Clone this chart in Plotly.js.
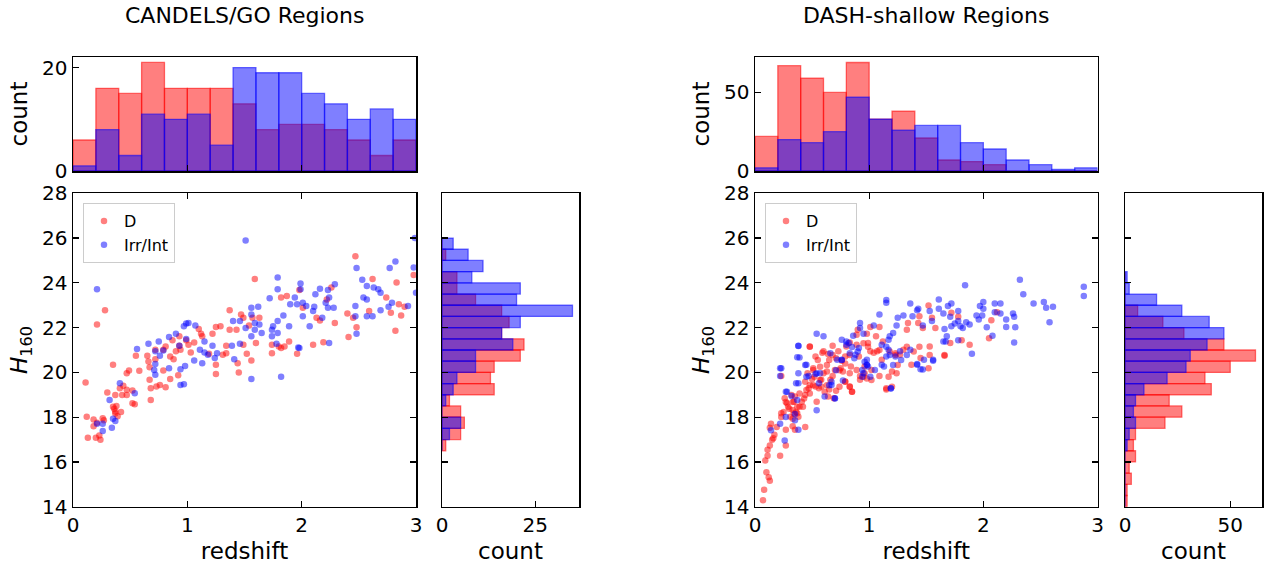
<!DOCTYPE html>
<html>
<head>
<meta charset="utf-8">
<script src="https://cdn.plot.ly/plotly-3.0.1.min.js"></script>
<style>html,body{margin:0;padding:0;background:#fff;}#chart{width:1267px;height:570px;}</style>
</head>
<body>
<div id="chart"></div>
<script>
// ---------- DATA ----------
const panelTitles = ["CANDELS/GO Regions", "DASH-shallow Regions"];
const seriesNames = ["D", "Irr/Int"];

// redshift histogram bins (width 0.2)
const zBinCenters = [0.1,0.3,0.5,0.7,0.9,1.1,1.3,1.5,1.7,1.9,2.1,2.3,2.5,2.7,2.9];
const candelsTopD   = [6,16,15,21,16,16,16,13,8,9,9,8,6,3,6];
const candelsTopIrr = [1,8,3,11,10,11,5,20,19,19,15,13,10,12,10];
const dashTopD      = [22,67,59,50,69,33,38,21,7,6,4,0,0,0,0];
const dashTopIrr    = [2,20,18,25,47,33,26,29,29,18,14,7,4,1,2];

// H160 histogram bins (width 0.5)
const candelsHBins = [16.75,17.25,17.75,18.25,18.75,19.25,19.75,20.25,20.75,21.25,21.75,22.25,22.75,23.25,23.75,24.25,24.75,25.25,25.75];
const candelsSideD   = [1,5,6,5,2,14,13,14,21,22,16,18,16,9,4,4,0,1,0];
const candelsSideIrr = [0,2,5,0,1,3,4,9,9,19,16,21,35,20,21,8,11,7,3];
const dashHBins = [14.25,14.75,15.25,15.75,16.25,16.75,17.25,17.75,18.25,18.75,19.25,19.75,20.25,20.75,21.25,21.75,22.25,22.75,23.25,23.75,24.25];
const dashSideD   = [1,1,3,2,5,4,5,19,27,21,41,38,50,62,47,28,18,6,0,0,0];
const dashSideIrr = [0,0,0,0,0,1,2,5,4,5,9,20,29,31,39,47,40,27,15,2,1];

// scatter points [redshift, H160]
const candelsD = [[0.21,22.14],[0.28,22.78],[1.59,24.17],[2.47,25.19],[2.62,24.17],[2.83,24.02],[2.98,24.35],[1.98,23.68],[2.26,23.79],[1.82,23.34],[1.87,23.41],[2.01,22.89],[2.13,22.44],[2.16,22.32],[2.22,23.26],[2.29,22.21],[2.40,22.63],[2.45,22.44],[2.48,22.02],[2.41,21.58],[2.59,22.74],[2.74,23.34],[2.85,23.04],[2.87,22.54],[2.78,22.66],[2.82,21.86],[2.90,22.93],[1.37,22.78],[1.47,22.59],[1.49,22.44],[1.57,22.44],[1.63,22.44],[1.54,22.09],[1.25,22.03],[1.29,22.06],[1.37,21.91],[1.43,21.91],[1.10,21.94],[1.12,21.73],[1.13,21.61],[1.06,21.34],[1.01,21.23],[0.99,21.43],[1.22,21.73],[1.34,21.19],[1.49,21.23],[1.60,21.31],[1.74,21.23],[1.80,21.16],[1.85,21.16],[2.10,21.23],[2.19,21.35],[0.87,21.43],[0.93,21.61],[0.93,21.19],[0.81,21.16],[0.72,21.01],
[0.11,19.55],[0.12,18.02],[0.18,17.90],[0.26,17.95],[0.35,20.34],[0.30,19.10],[0.37,18.99],[0.38,18.50],[0.35,18.47],[0.37,18.25],[0.41,19.29],[0.44,19.40],[0.43,18.99],[0.47,19.22],[0.47,18.99],[0.52,19.19],[0.52,18.62],[0.47,19.96],[0.49,20.08],[0.55,20.74],[0.58,20.07],[0.65,20.74],[0.66,20.49],[0.67,20.23],[0.67,19.67],[0.68,19.29],[0.72,20.59],[0.73,19.37],[0.68,18.77],[0.76,19.44],[0.79,20.08],[0.81,19.34],[0.79,21.01],[0.85,20.71],[0.85,19.70],[0.88,20.59],[0.90,20.94],[0.92,19.87],[0.94,21.01],[1.03,20.89],[1.19,20.83],[1.25,19.93],[1.25,20.34],[1.31,20.79],[1.34,20.86],[1.45,19.99],[1.44,20.41],[1.52,20.83],[1.56,20.53],[1.74,20.86],[1.82,21.09],[1.89,21.38],[1.96,20.83],
[0.13,17.08],[0.20,17.08],[0.24,16.99],[0.23,17.18],[0.18,17.59],[0.27,17.86],[0.21,17.75],[0.36,18.38],[0.37,18.16],[0.42,18.23],[0.39,18.04],[0.54,18.58]];

const candelsIrr = [[0.21,23.71],[1.51,25.89],[2.99,26.0],[2.98,24.69],[2.82,24.95],[2.77,24.66],[2.48,24.66],[1.79,24.24],[1.79,23.71],[1.99,23.97],[1.99,23.71],[2.16,23.74],[2.23,23.68],[2.29,23.94],[2.12,23.49],[2.24,23.34],[1.72,23.31],[1.94,23.34],[1.90,23.04],[1.96,23.04],[2.01,23.11],[2.04,22.96],[2.11,22.93],[2.21,23.11],[2.23,22.89],[2.28,22.89],[2.53,24.14],[2.57,23.86],[2.63,23.79],[2.67,23.71],[2.69,23.56],[2.54,23.34],[2.57,23.26],[2.47,22.96],[2.76,22.93],[2.79,23.11],[2.93,22.96],[3.0,23.56],[2.69,22.78],[2.62,22.51],[2.57,22.51],[2.47,22.51],[1.56,22.89],[1.62,22.93],[1.56,22.59],[1.40,22.29],[1.46,22.29],[1.59,22.21],[1.63,22.14],[1.51,21.98],[1.59,21.91],[1.75,22.06],[1.79,22.29],[1.74,21.91],[1.79,21.76],[1.89,22.06],[2.07,22.06],[2.18,22.44],[2.01,22.51],[2.10,22.74],[1.84,22.54],[0.99,22.18],[1.01,22.21],[1.07,22.09],[0.97,22.06],[0.90,21.73],[0.84,21.58],[0.99,21.49],[1.15,21.38],[1.22,21.19],[1.39,21.19],[1.46,21.28],[1.56,21.61],[1.65,21.76],[1.74,21.61],[1.78,21.28],[1.97,21.11],[2.24,21.31],[2.48,21.73],[0.66,21.28],[0.75,21.38],[0.56,21.04],[0.93,21.19],
[0.32,18.77],[0.41,19.52],[0.54,19.07],[0.72,20.94],[0.72,20.38],[0.72,19.89],[0.71,20.11],[0.76,20.74],[0.79,20.98],[0.84,20.19],[0.94,19.44],[0.97,19.47],[0.94,20.14],[0.98,20.29],[1.06,20.53],[1.11,21.01],[1.13,20.41],[1.15,20.89],[1.18,20.79],[1.24,20.64],[1.26,20.86],[1.41,20.59],[1.56,19.70],[1.82,19.81],[1.98,21.09],
[0.26,17.38],[0.21,17.71],[0.26,17.71],[0.34,17.53],[0.35,17.93],[0.37,17.83]];

const dashD = [[1.52,22.99],[1.72,22.66],[1.78,22.48],[2.12,22.69],[2.07,22.33],[2.05,21.53],[1.88,21.23],[1.81,21.43],[1.71,21.31],[1.44,22.51],[1.43,22.21],[1.47,21.98],[1.55,22.44],[1.58,21.98],[1.34,22.21],[1.33,21.91],[1.09,22.03],[1.01,22.03],[0.98,21.73],[0.90,21.91],[0.89,21.68],[1.06,21.61],[1.12,21.38],[0.99,21.31],[0.83,21.34],[0.68,21.19],[0.48,21.16],[0.80,21.16],[1.53,21.16],
[0.23,19.84],[0.26,18.84],[0.28,18.62],[0.29,18.47],[0.23,18.17],[0.32,18.99],[0.34,18.69],[0.35,18.92],[0.37,18.47],[0.37,18.17],[0.38,18.02],[0.33,18.32],[0.31,18.02],[0.41,18.69],[0.42,18.47],[0.44,18.99],[0.47,19.29],[0.48,19.44],[0.50,19.70],[0.51,20.11],[0.53,20.71],[0.53,19.37],[0.56,19.29],[0.58,19.37],[0.58,19.67],[0.54,18.69],[0.61,19.14],[0.63,20.04],[0.64,18.92],[0.60,20.94],[0.66,19.67],[0.69,18.84],[0.70,20.11],[0.75,20.19],[0.73,20.94],[0.77,20.04],[0.79,19.59],[0.79,20.71],[0.83,19.37],[0.85,19.14],[0.84,20.26],[0.89,20.11],[0.91,20.71],[0.92,19.67],[0.95,19.81],[0.96,20.26],[1.01,20.94],[1.02,20.11],[1.07,20.94],[1.09,19.84],[1.11,20.56],[1.15,19.29],[1.17,19.81],[1.20,20.04],[1.23,20.86],[1.24,19.96],[1.27,20.79],[1.30,21.01],[1.37,20.34],[1.45,20.64],[1.52,20.19],[1.66,20.74],
[0.07,14.29],[0.08,14.76],[0.09,16.06],[0.10,15.54],[0.11,16.28],[0.12,15.31],[0.13,15.16],[0.11,16.54],[0.13,16.73],[0.15,16.99],[0.17,17.21],[0.16,17.06],[0.19,17.56],[0.22,16.28],[0.27,16.73],[0.27,17.44],[0.33,17.59],[0.35,17.44],[0.44,17.56],[0.13,17.53],[0.14,17.71],
[0.48,21.15],[0.59,20.88],[0.64,20.82],[0.68,20.78],[0.65,20.55],[0.71,20.63],[0.76,20.52],[0.79,20.40],[0.83,20.78],[0.89,21.23],[0.95,21.30],[0.99,21.15],[1.04,20.88],[1.09,21.0],[1.18,20.93],[1.23,20.78],[1.25,20.33],[1.33,21.15],[1.39,20.93],[1.44,21.15],[1.53,20.78],[1.66,20.78],[1.15,19.24],[1.20,19.36],[1.02,19.66],[0.83,19.36],[0.85,19.13],[0.71,19.18],[0.65,19.24],[0.63,19.43],[0.57,19.66],[0.52,19.81],[0.51,19.43],[0.48,19.06],[0.45,19.21],[0.43,18.83],[0.39,18.46],[0.36,18.23],[0.30,18.38],[0.27,18.68],[0.25,18.23],[0.23,18.01],[0.33,17.93],[0.34,18.16],[0.33,18.68],[0.39,19.06],[0.44,19.58],[0.46,19.96],[0.51,20.18],[0.57,20.25],[0.60,19.96],[0.55,20.55],[0.63,20.33],[0.74,20.10],[0.79,19.58],[0.83,19.96],[0.92,19.84],[0.96,19.96],[0.98,19.73],[0.68,19.84],[0.74,19.36]];

const dashIrr = [[2.32,24.14],[2.35,23.49],[2.88,23.83],[2.88,23.41],[1.84,23.89],[2.44,23.08],[2.53,23.14],[2.55,22.89],[2.61,22.93],[2.58,22.24],[2.26,22.63],[2.27,22.48],[2.20,22.36],[2.20,22.03],[2.28,22.02],[2.27,21.34],[2.15,23.08],[2.10,23.08],[2.15,22.63],[2.10,22.69],[2.0,23.14],[2.0,22.84],[1.97,22.96],[1.99,22.54],[1.94,22.54],[1.96,22.36],[2.03,22.02],[2.08,21.64],[1.88,22.14],[1.85,22.24],[1.72,23.08],[1.69,22.96],[1.61,23.26],[1.61,22.84],[1.65,22.63],[1.71,22.48],[1.78,22.74],[1.78,22.29],[1.75,22.18],[1.80,22.06],[1.82,21.98],[1.72,22.06],[1.66,21.94],[1.68,21.61],[1.53,22.74],[1.55,22.29],[1.47,22.09],[1.42,22.78],[1.43,22.84],[1.36,23.08],[1.38,22.51],[1.30,22.54],[1.25,22.44],[1.24,22.09],[1.15,23.11],[1.15,23.23],[1.09,22.59],[1.04,22.09],[0.92,22.21],[0.92,21.98],[0.95,21.73],[1.18,21.61],[1.21,21.76],[1.17,21.46],[0.86,21.64],[0.80,21.38],[0.76,21.46],[0.60,21.61],[0.54,21.73],[0.38,21.19],
[0.23,20.19],[0.28,19.14],[0.32,18.95],[0.35,18.14],[0.37,18.77],[0.38,19.52],[0.37,20.68],[0.45,20.34],[0.47,19.84],[0.53,19.93],[0.56,19.52],[0.61,18.92],[0.66,20.86],[0.67,19.44],[0.70,18.84],[0.72,20.56],[0.76,20.56],[0.77,19.64],[0.88,20.79],[0.94,20.11],[0.94,19.81],[0.98,20.56],[0.98,20.34],[0.99,20.26],[1.01,19.81],[1.05,20.11],[1.11,20.34],[1.13,20.26],[1.15,20.71],[1.19,19.29],[1.23,20.71],[1.42,20.34],[1.45,20.14],[1.48,20.56],[1.56,20.56],[1.90,20.83],
[0.82,21.31],[0.85,21.13],[0.91,21.09],[1.17,21.01],[1.27,20.94],[1.36,21.01],[1.67,21.38],[1.78,21.43],
[0.14,17.41],[0.26,16.96],[0.38,17.44],[0.22,17.71],
[0.38,21.18],[0.39,20.67],[0.22,20.18],[0.22,19.84],[0.27,19.13],[0.36,19.51],[0.38,19.96],[0.44,20.33],[0.45,19.81],[0.54,19.96],[0.57,19.96],[0.65,19.43],[0.67,19.58],[0.70,18.83],[0.71,20.10],[0.76,20.55],[0.80,21.23],[0.83,20.85],[0.87,20.63],[0.90,20.93],[0.96,20.48],[0.98,20.33],[0.95,19.96],[1.11,21.23],[1.15,21.15],[1.18,20.78],[1.21,20.33],[1.19,19.28],[1.28,20.55],[1.33,20.78],[1.42,20.37],[1.47,20.13],[1.56,20.52],[1.65,21.38],[0.54,18.31],[0.35,17.86],[0.27,18.01]];

// ---------- STYLE ----------
const RED = 'rgba(255,0,0,0.5)', BLUE = 'rgba(0,0,255,0.5)';
const REDE = 'rgba(255,0,0,0.55)', BLUEE = 'rgba(0,0,255,0.55)';
const FONT = 'DejaVu Sans, Liberation Sans, sans-serif';
const px = v => v / 1267, py = v => 1 - v / 570;

function scatter(pts, name, color, xa, ya, lg) {
  return {type:'scatter', mode:'markers', name:name, x:pts.map(p=>p[0]), y:pts.map(p=>p[1]),
    xaxis:xa, yaxis:ya, legend:lg, cliponaxis:true,
    marker:{color:color, size:6.5, line:{width:0}}, hoverinfo:'x+y'};
}
function vbar(counts, color, edge, xa, ya) {
  return {type:'bar', x:zBinCenters, y:counts, width:0.2, xaxis:xa, yaxis:ya, showlegend:false,
    marker:{color:color, line:{color:edge, width:1.3}}};
}
function hbar(bins, counts, color, edge, xa, ya) {
  return {type:'bar', orientation:'h', y:bins, x:counts, width:0.5, xaxis:xa, yaxis:ya, showlegend:false,
    marker:{color:color, line:{color:edge, width:1.3}}};
}

const data = [
  vbar(candelsTopD, RED, REDE, 'x2', 'y2'), vbar(candelsTopIrr, BLUE, BLUEE, 'x2', 'y2'),
  hbar(candelsHBins, candelsSideD, RED, REDE, 'x3', 'y3'), hbar(candelsHBins, candelsSideIrr, BLUE, BLUEE, 'x3', 'y3'),
  scatter(candelsD, seriesNames[0], RED, 'x', 'y', 'legend'), scatter(candelsIrr, seriesNames[1], BLUE, 'x', 'y', 'legend'),
  vbar(dashTopD, RED, REDE, 'x5', 'y5'), vbar(dashTopIrr, BLUE, BLUEE, 'x5', 'y5'),
  hbar(dashHBins, dashSideD, RED, REDE, 'x6', 'y6'), hbar(dashHBins, dashSideIrr, BLUE, BLUEE, 'x6', 'y6'),
  scatter(dashD, seriesNames[0], RED, 'x4', 'y4', 'legend2'), scatter(dashIrr, seriesNames[1], BLUE, 'x4', 'y4', 'legend2')
];

const tickFont = {family:FONT, size:20, color:'#000'};
const titleFont = {family:FONT, size:23, color:'#000'};
function ax(o) {
  return Object.assign({showline:true, linecolor:'#000', linewidth:1.5, mirror:true, ticks:'inside',
    ticklen:6, tickwidth:1.3, tickcolor:'#000', showgrid:false, zeroline:false, tickfont:tickFont,
    fixedrange:true}, o);
}
const L = [73, 416], R = [755, 1097.5];
const scY = [py(506.7), py(193.3)], topY = [py(171), py(57)];

const layout = {
  width:1267, height:570, margin:{l:0, r:0, t:0, b:0}, paper_bgcolor:'#fff', plot_bgcolor:'rgba(0,0,0,0)',
  barmode:'overlay', bargap:0, font:{family:FONT, color:'#000'},
  xaxis: ax({domain:[px(L[0]), px(L[1])], range:[0,3], anchor:'y', tickvals:[0,1,2,3], mirror:'allticks',
    title:{text:'redshift', font:titleFont, standoff:6}}),
  yaxis: ax({domain:scY, range:[14,28], anchor:'x', dtick:2, mirror:'allticks',
    title:{text:'<i>H</i><sub>160</sub>', font:titleFont, standoff:8}}),
  xaxis2: ax({domain:[px(L[0]), px(L[1])], range:[0,3], anchor:'y2', tickvals:[0,1,2,3], showticklabels:false}),
  yaxis2: ax({domain:topY, range:[0,22.05], anchor:'x2', tickvals:[0,20],
    title:{text:'count', font:titleFont, standoff:8}}),
  xaxis3: ax({domain:[px(442), px(579)], range:[0,36.75], anchor:'y3', tickvals:[0,25],
    title:{text:'count', font:titleFont, standoff:6}}),
  yaxis3: ax({domain:scY, range:[14,28], anchor:'x3', dtick:2, showticklabels:false}),
  xaxis4: ax({domain:[px(R[0]), px(R[1])], range:[0,3], anchor:'y4', tickvals:[0,1,2,3], mirror:'allticks',
    title:{text:'redshift', font:titleFont, standoff:6}}),
  yaxis4: ax({domain:scY, range:[14,28], anchor:'x4', dtick:2, mirror:'allticks',
    title:{text:'<i>H</i><sub>160</sub>', font:titleFont, standoff:8}}),
  xaxis5: ax({domain:[px(R[0]), px(R[1])], range:[0,3], anchor:'y5', tickvals:[0,1,2,3], showticklabels:false}),
  yaxis5: ax({domain:topY, range:[0,72.5], anchor:'x5', tickvals:[0,50],
    title:{text:'count', font:titleFont, standoff:8}}),
  xaxis6: ax({domain:[px(1125), px(1262)], range:[0,65.1], anchor:'y6', tickvals:[0,50],
    title:{text:'count', font:titleFont, standoff:6}}),
  yaxis6: ax({domain:scY, range:[14,28], anchor:'x6', dtick:2, showticklabels:false}),
  legend: {x:px(83), y:py(203), xanchor:'left', yanchor:'top', bgcolor:'rgba(255,255,255,0.8)',
    bordercolor:'#cccccc', borderwidth:1, font:{family:FONT, size:16, color:'#000'}},
  legend2: {x:px(765), y:py(203), xanchor:'left', yanchor:'top', bgcolor:'rgba(255,255,255,0.8)',
    bordercolor:'#cccccc', borderwidth:1, font:{family:FONT, size:16, color:'#000'}},
  annotations: [
    {text:panelTitles[0], x:px((L[0]+L[1])/2), y:py(16), xref:'paper', yref:'paper', showarrow:false,
     xanchor:'center', yanchor:'middle', font:{family:FONT, size:22, color:'#000'}},
    {text:panelTitles[1], x:px((R[0]+R[1])/2), y:py(16), xref:'paper', yref:'paper', showarrow:false,
     xanchor:'center', yanchor:'middle', font:{family:FONT, size:22, color:'#000'}}
  ],
  showlegend:true
};

Plotly.newPlot('chart', data, layout, {displayModeBar:false, staticPlot:true});
</script>
</body>
</html>
